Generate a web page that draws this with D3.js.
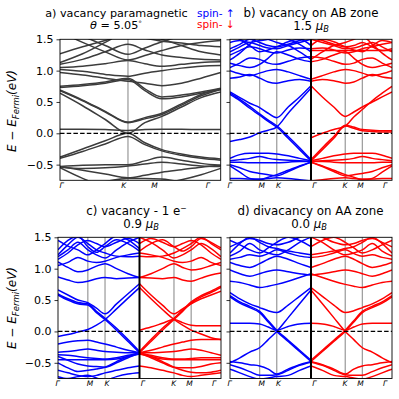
<!DOCTYPE html>
<html>
<head>
<meta charset="utf-8">
<script src="https://cdn.jsdelivr.net/npm/d3@7"></script>
<style>
  body { margin: 0; background: #fff; }
  text { font-family: "DejaVu Sans", sans-serif; }
</style>
</head>
<body>
<script>
// Energy axis
const energyTicks = [-0.5, 0.0, 0.5, 1.0, 1.5];
const energyRange = [-0.75, 1.5];

// k-path sample points (distance along path, hexagonal BZ units)
const pathGKMG = [0, 0.222, 0.444, 0.667, 0.833, 1.0, 1.192, 1.385, 1.577];
const pathGMKG = [0, 0.192, 0.385, 0.577, 0.744, 0.910, 1.133, 1.355, 1.577];
const symGKMG = [0.667, 1.0];   // K, M
const symGMKG = [0.577, 0.910]; // M, K

// tick labels along x
const labelsA = ['Γ', 'K', 'M', 'Γ'];
const labelPosA = [0.015, 0.625, 0.928, 1.45];
const labelsSplit = ['Γ', 'M', 'K', 'Γ', 'K', 'M', 'Γ'];
const labelPosSplit = [-0.01, 0.618, 0.945, 1.643, 2.24, 2.542, 3.02];

// a) vacancy paramagnetic (Γ-K-M-Γ)
const bandsA = [
  [0.065, 0.065, 0.06, 0.045, 0.06, 0.065, 0.065, 0.06, 0.06],
  [0.64, 0.44, 0.22, 0.0, 0.17, 0.27, 0.42, 0.57, 0.66],
  [0.68, 0.52, 0.34, 0.17, 0.23, 0.30, 0.45, 0.60, 0.70],
  [0.69, 0.53, 0.35, 0.18, 0.25, 0.32, 0.47, 0.62, 0.71],
  [-0.38, -0.25, -0.12, 0.0, -0.15, -0.26, -0.33, -0.38, -0.41],
  [-0.40, -0.29, -0.17, -0.05, -0.18, -0.28, -0.35, -0.40, -0.43],
  [-0.53, -0.51, -0.50, -0.50, -0.44, -0.38, -0.43, -0.48, -0.51],
  [-0.54, -0.56, -0.55, -0.52, -0.49, -0.46, -0.49, -0.52, -0.53],
  [-0.53, -0.59, -0.65, -0.71, -0.67, -0.62, -0.58, -0.54, -0.51],
  [-0.55, -0.72, -0.85, -0.90, -0.86, -0.80, -0.74, -0.66, -0.56],
  [-0.95, -0.85, -0.77, -0.72, -0.72, -0.73, -0.78, -0.86, -0.95],
  [0.73, 0.76, 0.80, 0.86, 0.68, 0.55, 0.58, 0.64, 0.70],
  [0.75, 0.78, 0.82, 0.88, 0.71, 0.58, 0.61, 0.66, 0.72],
  [1.02, 0.99, 0.94, 0.91, 0.96, 1.00, 1.04, 1.07, 1.08],
  [1.05, 1.07, 1.11, 1.16, 1.11, 1.07, 1.10, 1.13, 1.14],
  [1.10, 1.18, 1.30, 1.42, 1.33, 1.25, 1.21, 1.18, 1.17],
  [1.13, 1.27, 1.45, 1.62, 1.55, 1.50, 1.40, 1.30, 1.25],
  [1.62, 1.45, 1.30, 1.17, 1.24, 1.32, 1.40, 1.45, 1.48],
  [1.70, 1.55, 1.40, 1.26, 1.36, 1.46, 1.55, 1.60, 1.62],
  [1.27, 1.38, 1.48, 1.58, 1.52, 1.47, 1.44, 1.40, 1.38],
  [0.97, 0.93, 0.88, 0.83, 0.80, 0.76, 0.80, 0.88, 0.97]
];

// b) vacancy on AB zone, spin up (Γ-M-K-Γ)
const bandsBUp = [
  [-0.13, -0.10, -0.06, 0.01, 0.05, 0.10, 0.32, 0.52, 0.72],
  [0.62, 0.52, 0.40, 0.29, 0.19, 0.10, -0.08, -0.26, -0.44],
  [0.64, 0.54, 0.43, 0.31, 0.21, 0.12, -0.05, -0.23, -0.42],
  [0.66, 0.57, 0.48, 0.41, 0.32, 0.25, 0.42, 0.58, 0.76],
  [-0.40, -0.34, -0.32, -0.32, -0.32, -0.33, -0.36, -0.40, -0.44],
  [-0.44, -0.42, -0.40, -0.37, -0.40, -0.42, -0.43, -0.44, -0.45],
  [-0.46, -0.46, -0.47, -0.47, -0.47, -0.47, -0.46, -0.45, -0.45],
  [-0.50, -0.55, -0.61, -0.64, -0.66, -0.68, -0.61, -0.53, -0.46],
  [-0.52, -0.62, -0.72, -0.74, -0.70, -0.66, -0.59, -0.52, -0.46],
  [-0.72, -0.72, -0.73, -0.73, -0.72, -0.71, -0.72, -0.74, -0.76],
  [1.17, 1.28, 1.42, 1.55, 1.50, 1.45, 1.40, 1.30, 1.18],
  [1.12, 1.08, 1.05, 1.10, 1.20, 1.30, 1.25, 1.18, 1.14],
  [1.00, 0.95, 0.92, 0.96, 1.00, 1.02, 0.98, 0.92, 0.86],
  [0.88, 0.90, 0.94, 0.88, 0.82, 0.80, 0.84, 0.86, 0.83],
  [1.30, 1.38, 1.45, 1.40, 1.36, 1.35, 1.40, 1.45, 1.50],
  [1.45, 1.48, 1.40, 1.30, 1.33, 1.38, 1.46, 1.50, 1.40],
  [1.60, 1.50, 1.45, 1.48, 1.50, 1.55, 1.50, 1.42, 1.30],
  [1.35, 1.42, 1.50, 1.45, 1.40, 1.38, 1.42, 1.48, 1.55],
  [1.25, 1.32, 1.38, 1.35, 1.30, 1.28, 1.33, 1.36, 1.35],
  [1.05, 1.12, 1.20, 1.18, 1.12, 1.10, 1.15, 1.20, 1.22]
];

// b) spin down (Γ-K-M-Γ)
const bandsBDown = [
  [-0.07, 0.0, 0.06, 0.115, 0.26, 0.38, 0.52, 0.64, 0.75],
  [-0.44, -0.26, -0.08, 0.115, 0.08, 0.04, 0.03, 0.02, 0.02],
  [-0.42, -0.23, -0.05, 0.13, 0.10, 0.06, 0.05, 0.04, 0.04],
  [0.76, 0.58, 0.42, 0.27, 0.34, 0.42, 0.50, 0.58, 0.66],
  [-0.44, -0.40, -0.36, -0.33, -0.32, -0.32, -0.32, -0.35, -0.40],
  [-0.45, -0.44, -0.43, -0.42, -0.40, -0.37, -0.40, -0.42, -0.44],
  [-0.45, -0.45, -0.46, -0.47, -0.47, -0.47, -0.47, -0.46, -0.46],
  [-0.46, -0.53, -0.61, -0.68, -0.66, -0.64, -0.61, -0.55, -0.50],
  [-0.46, -0.52, -0.59, -0.66, -0.70, -0.74, -0.72, -0.62, -0.52],
  [-0.76, -0.74, -0.72, -0.71, -0.72, -0.73, -0.73, -0.72, -0.72],
  [1.32, 1.32, 1.32, 1.32, 1.32, 1.32, 1.32, 1.32, 1.32],
  [1.18, 1.30, 1.40, 1.45, 1.50, 1.55, 1.42, 1.28, 1.17],
  [1.14, 1.18, 1.25, 1.30, 1.20, 1.10, 1.05, 1.08, 1.12],
  [0.86, 0.92, 0.98, 1.02, 1.00, 0.96, 0.92, 0.95, 1.00],
  [0.83, 0.86, 0.84, 0.80, 0.82, 0.88, 0.94, 0.90, 0.88],
  [1.50, 1.45, 1.40, 1.35, 1.36, 1.40, 1.45, 1.38, 1.30],
  [1.40, 1.50, 1.46, 1.38, 1.33, 1.30, 1.40, 1.48, 1.45],
  [1.55, 1.48, 1.42, 1.38, 1.40, 1.45, 1.38, 1.32, 1.35],
  [1.35, 1.36, 1.33, 1.28, 1.30, 1.35, 1.38, 1.42, 1.45],
  [1.22, 1.20, 1.15, 1.10, 1.12, 1.18, 1.20, 1.12, 1.05]
];

// c) vacancy - 1 e-, spin up (Γ-M-K-Γ)
const bandsCUp = [
  [-0.08, -0.05, -0.01, 0.03, 0.10, 0.19, 0.36, 0.53, 0.70],
  [0.58, 0.50, 0.44, 0.42, 0.30, 0.19, 0.02, -0.16, -0.34],
  [0.60, 0.52, 0.46, 0.44, 0.32, 0.21, 0.05, -0.13, -0.32],
  [0.66, 0.58, 0.50, 0.46, 0.37, 0.28, 0.44, 0.60, 0.76],
  [-0.20, -0.17, -0.15, -0.14, -0.17, -0.20, -0.25, -0.30, -0.34],
  [-0.33, -0.32, -0.30, -0.28, -0.30, -0.32, -0.33, -0.34, -0.34],
  [-0.37, -0.38, -0.40, -0.42, -0.43, -0.44, -0.42, -0.38, -0.35],
  [-0.45, -0.45, -0.45, -0.45, -0.45, -0.45, -0.44, -0.40, -0.36],
  [-0.40, -0.46, -0.52, -0.55, -0.56, -0.57, -0.50, -0.42, -0.35],
  [-0.50, -0.58, -0.64, -0.62, -0.60, -0.57, -0.48, -0.40, -0.34],
  [-0.62, -0.66, -0.70, -0.72, -0.70, -0.66, -0.62, -0.58, -0.55],
  [-0.72, -0.75, -0.72, -0.70, -0.74, -0.78, -0.72, -0.68, -0.66],
  [0.87, 0.82, 0.78, 0.80, 0.84, 0.86, 0.84, 0.85, 0.86],
  [1.11, 1.02, 0.95, 0.98, 1.04, 1.08, 1.00, 0.92, 0.86],
  [1.19, 1.30, 1.42, 1.30, 1.22, 1.17, 1.30, 1.42, 1.50],
  [1.22, 1.38, 1.50, 1.40, 1.30, 1.25, 1.20, 1.19, 1.20],
  [1.30, 1.45, 1.52, 1.35, 1.26, 1.35, 1.46, 1.40, 1.28],
  [1.45, 1.36, 1.30, 1.22, 1.30, 1.40, 1.52, 1.46, 1.32],
  [1.15, 1.25, 1.38, 1.45, 1.40, 1.35, 1.42, 1.48, 1.40],
  [1.05, 1.10, 1.18, 1.12, 1.10, 1.12, 1.18, 1.22, 1.25]
];

// c) spin down (Γ-K-M-Γ)
const bandsCDown = [
  [0.02, 0.07, 0.13, 0.19, 0.14, 0.10, 0.09, 0.09, 0.09],
  [0.70, 0.52, 0.35, 0.19, 0.10, 0.02, -0.04, -0.10, -0.13],
  [-0.34, -0.16, 0.02, 0.19, 0.32, 0.45, 0.55, 0.62, 0.70],
  [-0.32, -0.13, 0.05, 0.21, 0.34, 0.47, 0.57, 0.64, 0.72],
  [0.76, 0.58, 0.42, 0.28, 0.36, 0.44, 0.52, 0.58, 0.64],
  [-0.34, -0.30, -0.25, -0.20, -0.17, -0.14, -0.13, -0.13, -0.13],
  [-0.34, -0.34, -0.33, -0.32, -0.30, -0.28, -0.30, -0.34, -0.38],
  [-0.35, -0.38, -0.42, -0.44, -0.44, -0.43, -0.42, -0.42, -0.42],
  [-0.36, -0.40, -0.44, -0.45, -0.45, -0.45, -0.45, -0.45, -0.45],
  [-0.35, -0.42, -0.50, -0.57, -0.58, -0.58, -0.56, -0.52, -0.50],
  [-0.34, -0.40, -0.48, -0.57, -0.62, -0.65, -0.66, -0.65, -0.62],
  [-0.55, -0.58, -0.62, -0.66, -0.70, -0.72, -0.70, -0.68, -0.66],
  [0.86, 0.85, 0.84, 0.86, 0.82, 0.80, 0.85, 0.90, 0.93],
  [0.86, 0.92, 1.00, 1.08, 1.02, 0.98, 1.00, 1.05, 1.10],
  [1.50, 1.42, 1.30, 1.17, 1.22, 1.30, 1.40, 1.32, 1.19],
  [1.20, 1.19, 1.20, 1.25, 1.32, 1.40, 1.50, 1.40, 1.30],
  [1.28, 1.40, 1.46, 1.35, 1.28, 1.35, 1.48, 1.42, 1.33],
  [1.40, 1.48, 1.42, 1.35, 1.40, 1.45, 1.38, 1.25, 1.15],
  [1.25, 1.22, 1.18, 1.12, 1.10, 1.12, 1.18, 1.10, 1.05]
];

// d) divacancy on AA zone, spin up (Γ-M-K-Γ)
const bandsDUp = [
  [0.13, 0.13, 0.13, 0.12, 0.07, 0.02, 0.08, 0.12, 0.13],
  [0.55, 0.45, 0.38, 0.30, 0.15, 0.0, -0.16, -0.32, -0.48],
  [0.57, 0.47, 0.40, 0.32, 0.17, 0.02, -0.14, -0.30, -0.46],
  [-0.50, -0.42, -0.33, -0.26, -0.13, 0.0, 0.22, 0.44, 0.66],
  [0.62, 0.52, 0.44, 0.38, 0.33, 0.30, 0.42, 0.56, 0.70],
  [-0.48, -0.50, -0.53, -0.55, -0.60, -0.68, -0.60, -0.53, -0.48],
  [-0.53, -0.58, -0.64, -0.70, -0.70, -0.69, -0.62, -0.54, -0.49],
  [-0.60, -0.66, -0.72, -0.76, -0.74, -0.72, -0.70, -0.62, -0.55],
  [0.80, 0.78, 0.74, 0.70, 0.72, 0.75, 0.80, 0.86, 0.92],
  [0.98, 0.92, 0.88, 0.92, 0.96, 0.98, 0.95, 0.92, 0.90],
  [1.10, 1.05, 1.02, 1.08, 1.15, 1.20, 1.15, 1.08, 1.02],
  [1.20, 1.28, 1.40, 1.30, 1.25, 1.22, 1.30, 1.42, 1.50],
  [1.25, 1.40, 1.50, 1.42, 1.35, 1.32, 1.28, 1.25, 1.22],
  [1.45, 1.38, 1.30, 1.25, 1.33, 1.42, 1.50, 1.45, 1.35],
  [1.35, 1.42, 1.48, 1.45, 1.40, 1.38, 1.42, 1.50, 1.55],
  [1.15, 1.18, 1.22, 1.20, 1.24, 1.30, 1.25, 1.20, 1.18]
];

// d) spin down (Γ-K-M-Γ)
const bandsDDown = [
  [0.13, 0.12, 0.08, 0.02, 0.07, 0.12, 0.13, 0.13, 0.13],
  [0.66, 0.44, 0.22, 0.0, -0.13, -0.26, -0.33, -0.42, -0.50],
  [-0.48, -0.32, -0.16, 0.0, 0.15, 0.30, 0.38, 0.45, 0.55],
  [-0.46, -0.30, -0.14, 0.02, 0.17, 0.32, 0.40, 0.47, 0.57],
  [0.70, 0.56, 0.42, 0.30, 0.33, 0.38, 0.44, 0.52, 0.62],
  [-0.48, -0.53, -0.60, -0.68, -0.60, -0.55, -0.53, -0.50, -0.48],
  [-0.49, -0.54, -0.62, -0.69, -0.70, -0.70, -0.64, -0.58, -0.53],
  [-0.55, -0.62, -0.70, -0.72, -0.74, -0.76, -0.72, -0.66, -0.60],
  [0.92, 0.86, 0.80, 0.75, 0.72, 0.70, 0.74, 0.78, 0.80],
  [0.90, 0.92, 0.95, 0.98, 0.96, 0.92, 0.88, 0.92, 0.98],
  [1.02, 1.08, 1.15, 1.20, 1.15, 1.08, 1.02, 1.05, 1.10],
  [1.50, 1.42, 1.30, 1.22, 1.25, 1.30, 1.40, 1.28, 1.20],
  [1.22, 1.25, 1.28, 1.32, 1.35, 1.42, 1.50, 1.40, 1.25],
  [1.35, 1.45, 1.50, 1.42, 1.33, 1.25, 1.30, 1.38, 1.45],
  [1.55, 1.50, 1.42, 1.38, 1.40, 1.45, 1.48, 1.42, 1.35],
  [1.18, 1.20, 1.25, 1.30, 1.24, 1.20, 1.22, 1.18, 1.15]
];

const colUp = '#0000ff', colDown = '#ff0000', colPara = '#3c3c3c';

const svg = d3.select('body').append('svg')
  .attr('width', 399).attr('height', 399);
const defs = svg.append('defs');
let clipCount = 0;

// draw one block of bands over [xa, xb]
function drawBands(g, xa, xb, y, nodes, bands, color, marks) {
  const x = d3.scaleLinear().domain([0, nodes[nodes.length - 1]]).range([xa, xb]);
  const id = 'clip' + (clipCount++);
  defs.append('clipPath').attr('id', id).append('rect')
    .attr('x', xa).attr('y', y.range()[1])
    .attr('width', xb - xa).attr('height', y.range()[0] - y.range()[1]);

  g.selectAll(null).data(marks).enter().append('line')
    .attr('x1', d => x(d)).attr('x2', d => x(d))
    .attr('y1', y.range()[0]).attr('y2', y.range()[1])
    .attr('stroke', '#a0a0a0').attr('stroke-width', 1.3);

  const line = d3.line()
    .x((d, i) => x(nodes[i]))
    .y(d => y(d))
    .curve(d3.curveMonotoneX);

  g.append('g').attr('clip-path', `url(#${id})`)
    .selectAll('path').data(bands).enter().append('path')
    .attr('d', line)
    .attr('fill', 'none')
    .attr('stroke', color)
    .attr('stroke-width', 1.5);
}

function panel(x0, x1, y0, y1, showLabels) {
  const g = svg.append('g');
  const y = d3.scaleLinear().domain(energyRange).range([y1, y0]);
  return { g, y, x0, x1, y0, y1, showLabels };
}

function finish(p, labels, labelPos, total, split) {
  const { g, y, x0, x1, y0, y1, showLabels } = p;
  // Fermi level
  g.append('line')
    .attr('x1', x0).attr('x2', x1).attr('y1', y(0)).attr('y2', y(0))
    .attr('stroke', '#000').attr('stroke-width', 1.2)
    .attr('stroke-dasharray', '4.5,2.2');
  if (split) {
    const xm = (x0 + x1) / 2;
    g.append('line').attr('x1', xm).attr('x2', xm).attr('y1', y0).attr('y2', y1)
      .attr('stroke', '#000').attr('stroke-width', 2);
  }
  g.append('rect').attr('x', x0).attr('y', y0)
    .attr('width', x1 - x0).attr('height', y1 - y0)
    .attr('fill', 'none').attr('stroke', '#000').attr('stroke-width', 0.9);

  const axis = d3.axisLeft(y).tickValues(energyTicks).tickSize(3.5).tickPadding(3)
    .tickFormat(showLabels ? d3.format('.1f') : '');
  const ag = g.append('g').attr('transform', `translate(${x0},0)`).call(axis);
  ag.select('.domain').remove();
  ag.selectAll('text').attr('font-size', 11).attr('font-family', 'DejaVu Sans');
  ag.selectAll('line').attr('stroke-width', 0.8);

  const xs = d3.scaleLinear().domain([0, total]).range([x0, x1]);
  g.selectAll(null).data(labels).enter().append('text')
    .attr('x', (d, i) => xs(labelPos[i]))
    .attr('y', y1 + 7.3)
    .attr('text-anchor', 'middle')
    .attr('font-size', 7.5)
    .attr('font-style', 'italic')
    .text(d => d);
}

// ---- panel a
const pa = panel(60, 220.7, 39.3, 180.3, true);
drawBands(pa.g, 60, 220.7, pa.y, pathGKMG, bandsA, colPara, symGKMG);
finish(pa, labelsA, labelPosA, 1.577, false);

// ---- panel b
const pb = panel(230, 392, 39.3, 180.3, false);
drawBands(pb.g, 230, 311, pb.y, pathGMKG, bandsBUp, colUp, symGMKG);
drawBands(pb.g, 311, 392, pb.y, pathGKMG, bandsBDown, colDown, symGKMG);
finish(pb, labelsSplit, labelPosSplit, 3.154, true);

// ---- panel c
const pc = panel(58, 221, 237.3, 378.5, true);
drawBands(pc.g, 58, 139.5, pc.y, pathGMKG, bandsCUp, colUp, symGMKG);
drawBands(pc.g, 139.5, 221, pc.y, pathGKMG, bandsCDown, colDown, symGKMG);
finish(pc, labelsSplit, labelPosSplit, 3.154, true);

// ---- panel d
const pd = panel(230, 392, 237.3, 378.5, false);
drawBands(pd.g, 230, 311, pd.y, pathGMKG, bandsDUp, colUp, symGMKG);
drawBands(pd.g, 311, 392, pd.y, pathGKMG, bandsDDown, colDown, symGKMG);
finish(pd, labelsSplit, labelPosSplit, 3.154, true);

// ---- titles
function title(x, yy, size, parts) {
  const t = svg.append('text').attr('x', x).attr('y', yy)
    .attr('text-anchor', 'middle').attr('font-size', size);
  parts.forEach(p => {
    const s = t.append('tspan').text(p.t);
    if (p.i) s.attr('font-style', 'italic');
    if (p.sub) s.attr('font-size', size * 0.7).attr('dy', 2.3);
    if (p.sup) s.attr('font-size', size * 0.65).attr('dy', -3.2);
  });
}
title(116.5, 16.5, 11.2, [{ t: 'a) vacancy paramagnetic' }]);
title(116, 29.2, 11.2, [{ t: 'θ', i: true }, { t: ' = 5.05' }, { t: '°', sup: true }]);
title(311, 16.5, 11.8, [{ t: 'b) vacancy on AB zone' }]);
title(311, 30, 11.8, [{ t: '1.5 ' }, { t: 'μ', i: true }, { t: 'B', i: true, sub: true }]);
title(136.5, 214.5, 11.8, [{ t: 'c) vacancy - 1 e' }, { t: '−', sup: true }]);
title(141, 228, 11.8, [{ t: '0.9 ' }, { t: 'μ', i: true }, { t: 'B', i: true, sub: true }]);
title(310.5, 215, 11.8, [{ t: 'd) divacancy on AA zone' }]);
title(309, 228, 11.8, [{ t: '0.0 ' }, { t: 'μ', i: true }, { t: 'B', i: true, sub: true }]);

// legend
svg.append('text').attr('x', 197).attr('y', 16.5).attr('font-size', 10.5)
  .attr('fill', colUp).text('spin- ↑');
svg.append('text').attr('x', 197).attr('y', 28).attr('font-size', 10.5)
  .attr('fill', colDown).text('spin- ↓');

// y labels
function ylabel(cy) {
  const t = svg.append('text')
    .attr('transform', `translate(16,${cy}) rotate(-90)`)
    .attr('text-anchor', 'middle').attr('font-size', 12).attr('font-style', 'italic');
  t.append('tspan').text('E − E');
  t.append('tspan').text('Fermi').attr('font-size', 8.5).attr('dy', 2.5);
  t.append('tspan').text('(eV)').attr('dy', -2.5);
}
ylabel(111);
ylabel(308);
</script>
</body>
</html>
